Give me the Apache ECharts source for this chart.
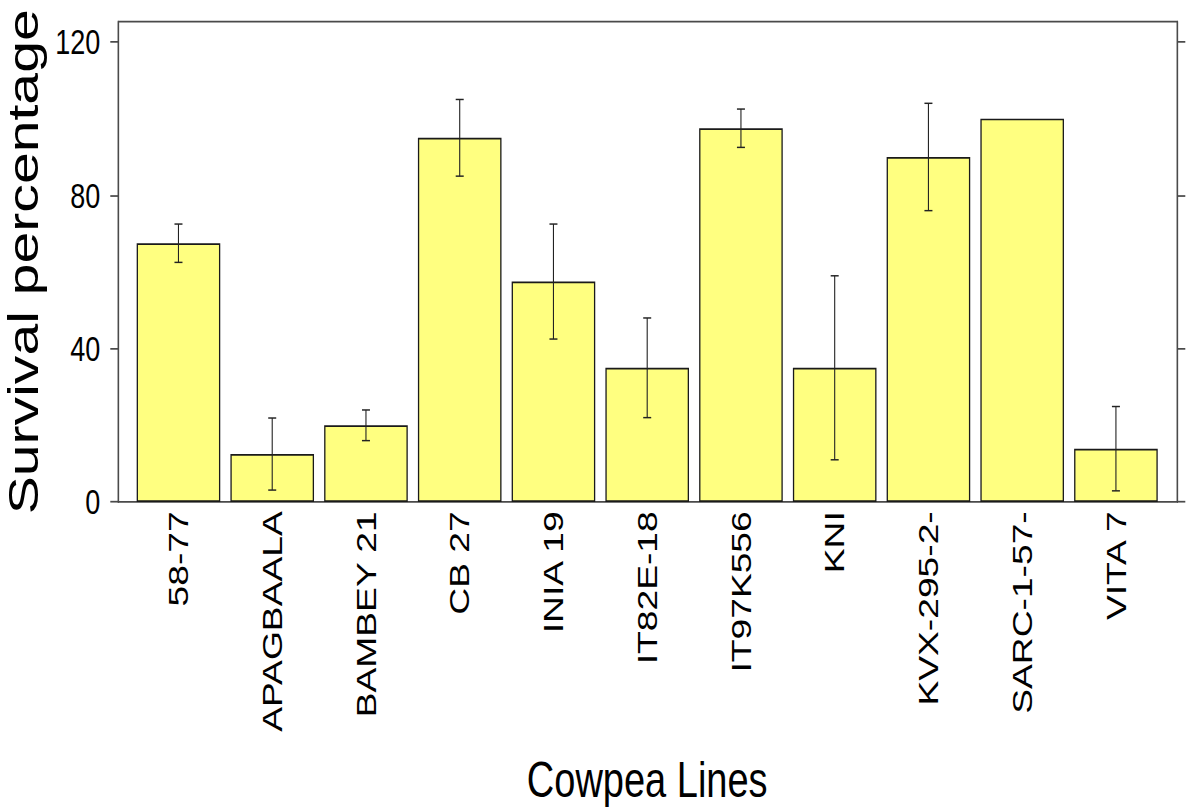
<!DOCTYPE html>
<html>
<head>
<meta charset="utf-8">
<script src="https://cdn.jsdelivr.net/npm/echarts@6/dist/echarts.min.js"></script>
<style>
  html, body { margin: 0; padding: 0; background: #fff; }
  #page { width: 1187px; height: 812px; position: relative; overflow: visible; }
  /* chart is laid out at a shorter height and stretched vertically to fill the page */
  #chart { position: absolute; left: 0; top: 0; width: 1187px; height: 611px;
           transform: scaleY(1.329); transform-origin: 0 0; }
</style>
</head>
<body>
<div id="page"><div id="chart"></div></div>
<script>
// Cowpea lines and their survival percentage (mean and error)
const categories = ['58-77', 'APAGBAALA', 'BAMBEY 21', 'CB 27', 'INIA 19', 'IT82E-18',
                    'IT97K556', 'KNI', 'KVX-295-2-', 'SARC-1-57-', 'VITA 7'];
const survival = [67.5, 12.5, 20, 95, 57.5, 35, 97.5, 35, 90, 100, 13.9];
const errors = [5, 9.4, 4, 10, 15, 13, 5, 24, 14, 0, 11];
const yTicks = [0, 40, 80, 120];

const Y_MAX = 125.3;
const frameColor = '#4a4a4a';

const chart = echarts.init(document.getElementById('chart'), null, { renderer: 'svg' });

const errorData = categories.map((c, i) => [i, survival[i] - errors[i], survival[i] + errors[i], errors[i]]);

const option = {
  backgroundColor: '#fff',
  animation: false,
  grid: [
    // frame with the two value axes
    { left: 118.3, right: 9.7, top: 16.3, bottom: 233.3, show: true, outerBoundsMode: 'none',
      borderColor: frameColor, borderWidth: 1.3, backgroundColor: 'transparent' },
    // inner band holding the bars
    { left: 131.6, right: 24.2, top: 16.3, bottom: 233.3, outerBoundsMode: 'none' }
  ],
  xAxis: [
    { type: 'value', gridIndex: 0, min: 0, max: 1, show: false },
    {
      type: 'category', gridIndex: 1, data: categories,
      axisLine: { show: false }, axisTick: { show: false },
      axisLabel: {
        rotate: 90, margin: 7, color: '#000', interval: 0,
        fontFamily: "'Liberation Sans', Arial, sans-serif", fontSize: 28
      },
      name: 'Cowpea Lines', nameLocation: 'middle', nameGap: 190,
      nameTextStyle: { color: '#000', fontFamily: "'Liberation Sans', Arial, sans-serif", fontSize: 38 }
    }
  ],
  yAxis: [
    {
      type: 'value', gridIndex: 0, position: 'left', min: 0, max: Y_MAX, interval: 40,
      splitLine: { show: false },
      axisLine: { show: true, lineStyle: { color: frameColor, width: 1.3 } },
      axisTick: { show: true, inside: false, length: 8, customValues: yTicks,
                  lineStyle: { color: frameColor, width: 1.3 } },
      axisLabel: { customValues: yTicks, margin: 18, color: '#000',
                   fontFamily: "'Liberation Sans Narrow', 'Arial Narrow', 'Liberation Sans', sans-serif",
                   fontSize: 27 },
      name: 'Survival percentage', nameLocation: 'middle', nameGap: 58, nameRotate: 90,
      nameTextStyle: { color: '#000', fontFamily: "'Liberation Sans', Arial, sans-serif", fontSize: 43 }
    },
    {
      type: 'value', gridIndex: 0, position: 'right', min: 0, max: Y_MAX, interval: 40,
      splitLine: { show: false },
      axisLine: { show: true, lineStyle: { color: frameColor, width: 1.3 } },
      axisTick: { show: true, inside: false, length: 8, customValues: yTicks,
                  lineStyle: { color: frameColor, width: 1.3 } },
      axisLabel: { show: false }
    },
    { type: 'value', gridIndex: 1, min: 0, max: Y_MAX, show: false }
  ],
  series: [
    {
      type: 'bar', xAxisIndex: 1, yAxisIndex: 2, data: survival, barWidth: 83.6,
      itemStyle: { color: '#FFFF80', borderColor: '#1a1a1a', borderWidth: 1.3 }
    },
    {
      type: 'custom', xAxisIndex: 1, yAxisIndex: 2, data: errorData, z: 10,
      renderItem: function (params, api) {
        if (api.value(3) <= 0) return null;
        const lo = api.coord([api.value(0), api.value(1)]);
        const hi = api.coord([api.value(0), api.value(2)]);
        const hw = 4;
        const style = { stroke: '#222', lineWidth: 1.1 };
        return {
          type: 'group',
          children: [
            { type: 'line', shape: { x1: hi[0], y1: hi[1], x2: lo[0], y2: lo[1] }, style: style },
            { type: 'line', shape: { x1: hi[0] - hw, y1: hi[1], x2: hi[0] + hw, y2: hi[1] }, style: style },
            { type: 'line', shape: { x1: lo[0] - hw, y1: lo[1], x2: lo[0] + hw, y2: lo[1] }, style: style }
          ]
        };
      }
    }
  ]
};

chart.setOption(option);
</script>
</body>
</html>
